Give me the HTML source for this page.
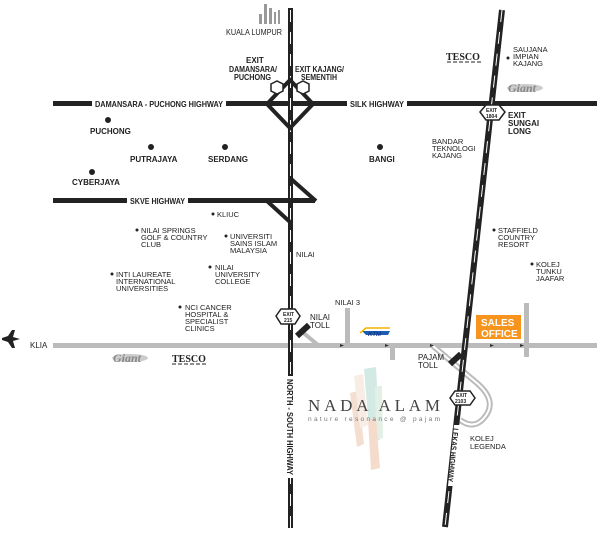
<!DOCTYPE html>
<html><head><meta charset="utf-8"><style>
html,body{margin:0;padding:0;background:#fff;width:600px;height:538px;overflow:hidden}
svg{display:block}
text{font-family:"Liberation Sans",Arial,sans-serif;fill:#222}
.b{font-weight:bold;font-size:8px}
.s{font-size:8px}
</style></head><body>
<svg width="600" height="538" viewBox="0 0 600 538" xmlns="http://www.w3.org/2000/svg">
<g fill="#999">
<rect x="259" y="14" width="3" height="10"/><rect x="264" y="4" width="3" height="20"/><rect x="269" y="8" width="3" height="16"/><rect x="274" y="12" width="2" height="12"/><rect x="278" y="10" width="2" height="14"/>
</g>
<text class="s" x="226" y="35" textLength="56" lengthAdjust="spacingAndGlyphs">KUALA LUMPUR</text>
<rect x="53" y="343" width="544" height="5" fill="#bbb"/>
<rect x="345" y="308" width="5" height="37" fill="#bbb"/>
<rect x="390" y="346" width="5" height="14" fill="#bbb"/>
<rect x="524" y="303" width="5" height="54" fill="#bbb"/>
<path d="M300 330 L318 345" stroke="#bbb" stroke-width="4"/>
<path d="M433 346 L478 384 Q498 402 484 418 Q474 430 460 420" fill="none" stroke="#bbb" stroke-width="6"/>
<path d="M433 346 L478 384 Q498 402 484 418 Q474 430 460 420" fill="none" stroke="#fff" stroke-width="2"/>
<g fill="#333">
<polygon points="340,344 344,345.5 340,347"/><polygon points="385,344 389,345.5 385,347"/><polygon points="430,344 434,345.5 430,347"/><polygon points="490,344 494,345.5 490,347"/><polygon points="520,344 524,345.5 520,347"/>
</g>
<rect x="53" y="101" width="544" height="5" fill="#222"/>
<rect x="53" y="198" width="262" height="5" fill="#222"/>
<rect x="288" y="8" width="5" height="520" fill="#222"/>
<line x1="502" y1="10" x2="445" y2="527" stroke="#222" stroke-width="6"/>
<line x1="502" y1="10" x2="445" y2="527" stroke="#fff" stroke-width="1" stroke-dasharray="12 10"/>
<line x1="290.5" y1="10" x2="290.5" y2="528" stroke="#fff" stroke-width="1" stroke-dasharray="12 10"/>
<polygon points="267,104 290,80 313,104 290,128" fill="none" stroke="#222" stroke-width="4"/>
<polygon points="271,84 277,81 283,84 283,91 277,94 271,91" fill="#fff" stroke="#222" stroke-width="1.5"/>
<polygon points="297,84 303,81 309,84 309,91 303,94 297,91" fill="#fff" stroke="#222" stroke-width="1.5"/>
<polyline points="290,178 316,201" fill="none" stroke="#222" stroke-width="4"/>
<polyline points="267,201 290,222" fill="none" stroke="#222" stroke-width="4"/>
<rect x="92" y="97" width="134" height="13" fill="#fff"/>
<text class="b" x="95" y="107" textLength="128" lengthAdjust="spacingAndGlyphs">DAMANSARA - PUCHONG HIGHWAY</text>
<rect x="347" y="97" width="60" height="13" fill="#fff"/>
<text class="b" x="350" y="107" textLength="54" lengthAdjust="spacingAndGlyphs">SILK HIGHWAY</text>
<rect x="127" y="194" width="61" height="13" fill="#fff"/>
<text class="b" x="130" y="204" textLength="55" lengthAdjust="spacingAndGlyphs">SKVE HIGHWAY</text>
<rect x="286" y="376" width="9" height="102" fill="#fff"/>
<text class="b" transform="translate(287,379) rotate(90)" textLength="96" lengthAdjust="spacingAndGlyphs">NORTH - SOUTH HIGHWAY</text>
<polygon points="454,425 462,425 456,486 448,486" fill="#fff"/>
<text class="b" transform="translate(453,428) rotate(96)" textLength="54" lengthAdjust="spacingAndGlyphs">LEKAS HIGHWAY</text>
<text class="b" x="246" y="63">EXIT</text>
<text class="b" x="229" y="72" textLength="48" lengthAdjust="spacingAndGlyphs">DAMANSARA/</text>
<text class="b" x="234" y="80" textLength="37" lengthAdjust="spacingAndGlyphs">PUCHONG</text>
<text class="b" x="295" y="72" textLength="49" lengthAdjust="spacingAndGlyphs">EXIT KAJANG/</text>
<text class="b" x="301" y="80" textLength="36" lengthAdjust="spacingAndGlyphs">SEMENTIH</text>
<polygon points="480,112 486,105 499,105 505,112 499,120 486,120" fill="#fff" stroke="#222" stroke-width="1.5"/>
<text x="486" y="112" style="font-size:5px;font-weight:bold">EXIT</text><text x="486" y="118" style="font-size:5px;font-weight:bold">1804</text>
<text class="b" x="508" y="118">EXIT</text><text class="b" x="508" y="126">SUNGAI</text><text class="b" x="508" y="134">LONG</text>
<polygon points="276,316 281,309 295,309 300,316 295,324 281,324" fill="#fff" stroke="#222" stroke-width="1.5"/>
<text x="283" y="316" style="font-size:5px;font-weight:bold">EXIT</text><text x="284" y="322" style="font-size:5px;font-weight:bold">215</text>
<polygon points="450,398 455,391 470,391 475,398 470,405 455,405" fill="#fff" stroke="#222" stroke-width="1.5"/>
<text x="456" y="397" style="font-size:5px;font-weight:bold">EXIT</text><text x="455" y="403" style="font-size:5px;font-weight:bold">2103</text>
<line x1="297" y1="336" x2="309" y2="325" stroke="#222" stroke-width="6"/>
<line x1="450" y1="364" x2="461" y2="354" stroke="#222" stroke-width="6"/>
<text class="s" x="310" y="320">NILAI</text><text class="s" x="310" y="328">TOLL</text>
<text class="s" x="418" y="360">PAJAM</text><text class="s" x="418" y="368">TOLL</text>
<g fill="#222">
<circle cx="108" cy="120" r="3"/><circle cx="151" cy="147" r="3"/><circle cx="225" cy="147" r="3"/><circle cx="92" cy="172" r="3"/><circle cx="380" cy="147" r="3"/>
<circle cx="213" cy="214" r="1.5"/><circle cx="137" cy="230" r="1.5"/><circle cx="226" cy="236" r="1.5"/><circle cx="210" cy="267" r="1.5"/><circle cx="112" cy="274" r="1.5"/><circle cx="180" cy="307" r="1.5"/>
<circle cx="508" cy="58" r="1.5"/><circle cx="494" cy="230" r="1.5"/><circle cx="532" cy="264" r="1.5"/>
</g>
<text class="b" x="90" y="134">PUCHONG</text>
<text class="b" x="130" y="162">PUTRAJAYA</text>
<text class="b" x="208" y="162">SERDANG</text>
<text class="b" x="72" y="185">CYBERJAYA</text>
<text class="b" x="369" y="162">BANGI</text>
<g class="s" style="font-size:7.5px">
<text x="217" y="217">KLIUC</text>
<text x="141" y="233">NILAI SPRINGS</text><text x="141" y="240">GOLF &amp; COUNTRY</text><text x="141" y="247">CLUB</text>
<text x="230" y="239">UNIVERSITI</text><text x="230" y="246">SAINS ISLAM</text><text x="230" y="253">MALAYSIA</text>
<text x="215" y="270">NILAI</text><text x="215" y="277">UNIVERSITY</text><text x="215" y="284">COLLEGE</text>
<text x="116" y="277">INTI LAUREATE</text><text x="116" y="284">INTERNATIONAL</text><text x="116" y="291">UNIVERSITIES</text>
<text x="185" y="310">NCI CANCER</text><text x="185" y="317">HOSPITAL &amp;</text><text x="185" y="324">SPECIALIST</text><text x="185" y="331">CLINICS</text>
<text x="296" y="257">NILAI</text>
<text x="335" y="305">NILAI 3</text>
<text x="513" y="52">SAUJANA</text><text x="513" y="59">IMPIAN</text><text x="513" y="66">KAJANG</text>
<text x="432" y="144">BANDAR</text><text x="432" y="151">TEKNOLOGI</text><text x="432" y="158">KAJANG</text>
<text x="498" y="233">STAFFIELD</text><text x="498" y="240">COUNTRY</text><text x="498" y="247">RESORT</text>
<text x="536" y="267">KOLEJ</text><text x="536" y="274">TUNKU</text><text x="536" y="281">JAAFAR</text>
<text x="470" y="441">KOLEJ</text><text x="470" y="449">LEGENDA</text>
</g>
<path d="M2 338 L8 336 L12 330 L15 330 L13 337 L20 339 L13 341 L15 348 L12 348 L8 342 L2 340 Z" fill="#222"/>
<text class="s" x="30" y="348">KLIA</text>
<text x="446" y="60" style="font-size:10px;font-weight:bold;font-family:'Liberation Serif',serif">TESCO</text>
<line x1="447" y1="62" x2="483" y2="62" stroke="#222" stroke-dasharray="4 2"/>
<text x="172" y="362" style="font-size:10px;font-weight:bold;font-family:'Liberation Serif',serif">TESCO</text>
<line x1="172" y1="364" x2="208" y2="364" stroke="#222" stroke-dasharray="4 2"/>
<ellipse cx="525" cy="88" rx="18" ry="4" fill="#ccc"/>
<text x="508" y="92" style="font-size:12px;font-style:italic;font-weight:bold;font-family:'Liberation Serif',serif;fill:#888">Giant</text>
<ellipse cx="130" cy="358" rx="18" ry="4" fill="#ccc"/>
<text x="113" y="362" style="font-size:12px;font-style:italic;font-weight:bold;font-family:'Liberation Serif',serif;fill:#888">Giant</text>
<path d="M362 331 L390 331 L388 335 L366 335 Z" fill="#1a5fb4"/>
<path d="M360 333 L366 328 L390 328" fill="none" stroke="#f4b400" stroke-width="1.5"/>
<text x="368" y="336" style="font-size:6px;font-weight:bold;font-style:italic;fill:#1a3a8a">KTM</text>
<rect x="476" y="315" width="45" height="24" fill="#f7941d"/>
<text x="481" y="326" style="font-size:10px;font-weight:bold;fill:#fff">SALES</text>
<text x="481" y="337" style="font-size:10px;font-weight:bold;fill:#fff">OFFICE</text>
<g opacity="0.45">
<polygon points="350,393 358,391 364,444 357,447" fill="#e7b69b"/>
<polygon points="354,376 363,374 368,425 360,428" fill="#f1d9c4"/>
<polygon points="364,369 376,367 380,440 370,442" fill="#9fcfc3"/>
<polygon points="375,386 382,386 383,438 376,440" fill="#c5dcc9"/>
<polygon points="368,420 376,418 380,468 371,470" fill="#e8b18f"/>
</g>
<text x="308" y="411" textLength="132" lengthAdjust="spacing" style="font-family:'Liberation Serif',serif;font-size:17px;fill:#444">NADA ALAM</text>
<text x="308" y="421" textLength="132" lengthAdjust="spacing" style="font-size:6.5px;fill:#777">nature resonance @ pajam</text>
</svg>
</body></html>
